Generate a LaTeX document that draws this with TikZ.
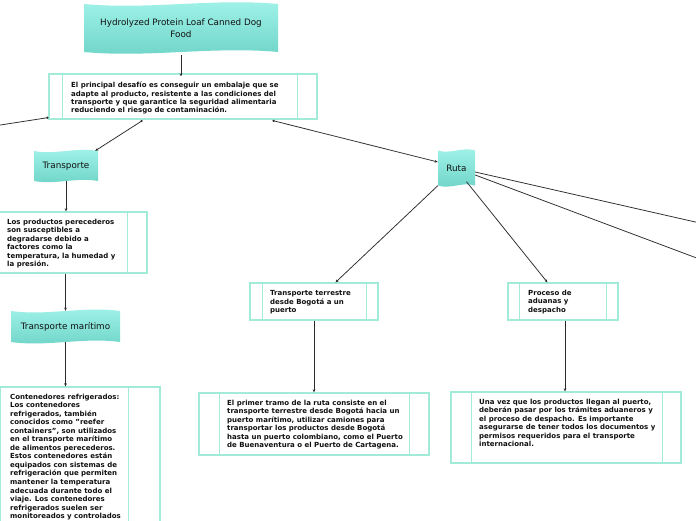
\documentclass[tikz,border=0pt]{standalone}
\usepackage{fontspec}
\setmainfont{DejaVu Sans}
\usetikzlibrary{arrows.meta,backgrounds}
\definecolor{flagtop}{HTML}{A2F3EA}
\definecolor{flagbot}{HTML}{6ED4C7}
\definecolor{framecol}{HTML}{A3EBD9}
\definecolor{linecol}{HTML}{2A2A2A}
\definecolor{txtcol}{HTML}{111111}
\tikzset{
  frame/.style={draw=framecol, line width=1.1pt, inner sep=0pt, fill=white},
  frameline/.style={draw=framecol, line width=1.1pt},
  flagtext/.style={inner sep=0pt, align=center, text=txtcol, font=\fontsize{8.8}{12}\selectfont},
  boxtext/.style={inner sep=0pt, anchor=north west, align=left, text=txtcol, font=\fontsize{7}{8.55}\selectfont\bfseries},
  conn/.style={draw=linecol, line width=0.75pt, -{Stealth[length=3.2pt,width=2.6pt]}},
  conndot/.style={draw=linecol, line width=0.75pt, {Circle[length=2.2pt]}-{Stealth[length=3.2pt,width=2.6pt]}}
}
% #1 name, #2 cx, #3 cy, #4 half width, #5 half height, #6 amplitude, #7 text
\newcommand\flagnode[7]{%
  \shade[top color=flagtop, bottom color=flagbot]
    (#2-#4,#3-#5) .. controls (#2-#4/3,#3-#5+2*#6) and (#2+#4/3,#3-#5-2*#6) .. (#2+#4,#3-#5)
    -- (#2+#4,#3+#5) .. controls (#2+#4/3,#3+#5-2*#6) and (#2-#4/3,#3+#5+2*#6) .. (#2-#4,#3+#5) -- cycle;
  \node[flagtext, minimum width=2*#4, minimum height=2*#5] (#1) at (#2,#3) {#7};}
% #1 name, #2 cx, #3 cy, #4 width, #5 height, #6 left strip, #7 right strip
\newcommand\frbox[7]{%
  \node[frame, minimum width=#4, minimum height=#5] (#1) at (#2,#3) {};
  \draw[frameline] ([xshift=#6pt]#1.north west) -- ([xshift=#6pt]#1.south west);
  \draw[frameline] ([xshift=-#7pt]#1.north east) -- ([xshift=-#7pt]#1.south east);}
\begin{document}
\begin{tikzpicture}[x=1pt,y=-1pt]
\useasboundingbox (0,0) rectangle (696,520);
\clip (0,0) rectangle (696,520);
\fill[white] (0,0) rectangle (696,520);

% flags
\flagnode{title}{181}{28}{97}{24}{3}{Hydrolyzed Protein Loaf Canned Dog\\Food}
\flagnode{tr}{66}{166}{32}{15}{2}{Transporte}
\flagnode{tm}{65.5}{326.5}{54.5}{15.5}{2.5}{Transporte marítimo}
\flagnode{ruta}{456.5}{168}{18.5}{17.5}{2}{Ruta}

% frames
\frbox{desc}{183}{96.5}{268}{45}{14}{20}
\frbox{b2}{63.5}{242.5}{167}{61}{20}{20}
\frbox{b3}{70}{473.5}{180}{173}{21}{32}
\frbox{tt}{314}{301.5}{128}{37}{13}{12}
\frbox{b4}{314}{424}{230}{62}{21}{20}
\frbox{pr}{563}{301.5}{110}{37}{12}{12}
\frbox{b5}{566}{427.5}{230}{71}{21}{19}

% texts
\node[boxtext, font=\fontsize{7}{8.3}\selectfont\bfseries] (descT) at (71,82) {El principal desafío es conseguir un embalaje que se\\adapte al producto, resistente a las condiciones del\\transporte y que garantice la seguridad alimentaria\\reduciendo el riesgo de contaminación.};
\node[boxtext] (b2T) at (7,218.5) {Los productos perecederos\\son susceptibles a\\degradarse debido a\\factores como la\\temperatura, la humedad y\\la presión.};
\node[boxtext] (b3T) at (10,393.5) {Contenedores refrigerados:\\Los contenedores\\refrigerados, también\\conocidos como "reefer\\containers", son utilizados\\en el transporte marítimo\\de alimentos perecederos.\\Estos contenedores están\\equipados con sistemas de\\refrigeración que permiten\\mantener la temperatura\\adecuada durante todo el\\viaje. Los contenedores\\refrigerados suelen ser\\monitoreados y controlados};
\node[boxtext] (ttT) at (270,290.5) {Transporte terrestre\\desde Bogotá a un\\puerto};
\node[boxtext] (b4T) at (227,399.5) {El primer tramo de la ruta consiste en el\\transporte terrestre desde Bogotá hacia un\\puerto marítimo, utilizar camiones para\\transportar los productos desde Bogotá\\hasta un puerto colombiano, como el Puerto\\de Buenaventura o el Puerto de Cartagena.};
\node[boxtext] (prT) at (528,289.5) {Proceso de\\aduanas y\\despacho};
\node[boxtext] (b5T) at (479,398.5) {Una vez que los productos llegan al puerto,\\deberán pasar por los trámites aduaneros y\\el proceso de despacho. Es importante\\asegurarse de tener todos los documentos y\\permisos requeridos para el transporte\\internacional.};

% off-canvas ends
\coordinate (offl) at (-6,126);
\coordinate (offr1) at (702,223.5);
\coordinate (offr2) at (702,260);

% connectors
\draw[conn] ([yshift=-3pt]title.south) -- ([yshift=-3pt]title.south |- desc.north);
\draw[conndot] ([yshift=2pt]desc.south west) -- (offl);
\draw[conndot] ([xshift=94pt,yshift=-1pt]desc.south west) -- ([xshift=-3pt]tr.north east);
\draw[conndot] ([xshift=-45pt,yshift=-1pt]desc.south east) -- ([yshift=6pt]ruta.west);
\draw[conn] (tr.south) -- (tr.south |- b2.north);
\draw[conn] (b2.south -| tm.north) -- (tm.north);
\draw[conn] (tm.south) -- (tm.south |- b3.north);
\draw[conn] (ruta.south west) -- ([xshift=86pt]tt.north west);
\draw[conn] ([xshift=10pt,yshift=4pt]ruta.south) -- ([xshift=40pt]pr.north west);
\draw[conn] ([yshift=-4pt]ruta.east) -- (offr1);
\draw[conn] ([yshift=-7pt]ruta.east) -- (offr2);
\draw[conn] (tt.south) -- (tt.south |- b4.north);
\draw[conn] ([xshift=2pt]pr.south) -- ([xshift=2pt]pr.south |- b5.north);
\end{tikzpicture}
\end{document}
